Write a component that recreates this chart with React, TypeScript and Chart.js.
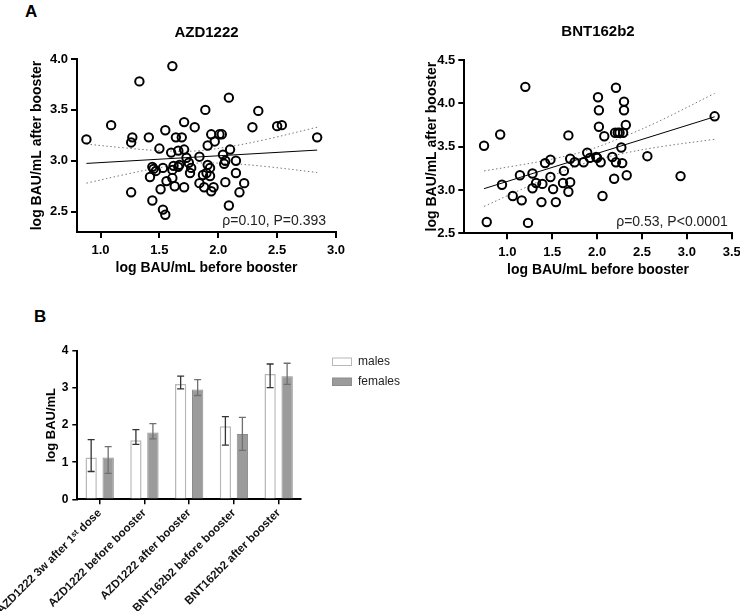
import React, { useEffect, useRef } from "react";
import { Chart, registerables } from "chart.js";
Chart.register(...registerables);

const FONT = "'Liberation Sans', Arial, Helvetica, sans-serif";

// ---------- Panel A: AZD1222 ----------
const azdBefore = [0.88, 1.09, 1.27, 1.26, 1.33, 1.26, 1.41, 1.42, 1.44, 1.45, 1.44, 1.47, 1.50, 1.51, 1.53, 1.53, 1.55, 1.55, 1.56, 1.60, 1.61, 1.61, 1.61, 1.63, 1.64, 1.66, 1.69, 1.66, 1.67, 1.71, 1.71, 1.73, 1.71, 1.75, 1.76, 1.77, 1.80, 1.84, 1.84, 1.88, 1.89, 1.90, 1.91, 1.91, 1.93, 1.94, 1.97, 1.94, 1.96, 2.01, 2.03, 2.04, 2.05, 2.06, 2.06, 2.09, 2.10, 2.09, 2.15, 2.15, 2.18, 2.22, 2.29, 2.34, 2.50, 2.54, 2.84, 1.62, 1.87, 1.93];
const azdAfter = [3.21, 3.35, 3.23, 3.18, 3.78, 2.69, 3.23, 2.84, 2.94, 2.92, 2.61, 2.90, 3.12, 2.72, 2.93, 2.52, 2.47, 3.30, 2.80, 3.08, 3.93, 2.91, 2.83, 2.75, 3.23, 2.94, 3.23, 3.10, 2.96, 3.38, 3.11, 3.03, 2.74, 2.98, 2.88, 2.93, 3.33, 3.04, 2.78, 2.74, 3.50, 2.88, 2.96, 3.15, 2.85, 3.26, 3.19, 2.70, 2.74, 3.26, 3.26, 3.06, 2.97, 3.00, 2.79, 3.62, 3.11, 2.56, 3.00, 2.88, 2.69, 2.78, 3.33, 3.49, 3.34, 3.35, 3.23, 2.95, 2.86, 2.93];
const azdFitX = [0.88, 2.84];
const azdFitY = [2.974, 3.105];
const azdBandX = [0.88, 1.2, 1.5, 1.8, 2.1, 2.4, 2.84];
const azdUpper = [3.164, 3.127, 3.100, 3.096, 3.140, 3.208, 3.330];
const azdLower = [2.780, 2.863, 2.932, 2.976, 2.972, 2.944, 2.885];
const azdXTicks = [1.0, 1.5, 2.0, 2.5, 3.0];
const azdYTicks = [2.5, 3.0, 3.5, 4.0];

// ---------- Panel A: BNT162b2 ----------
const bntBefore = [0.74, 0.77, 0.92, 0.94, 1.06, 1.14, 1.16, 1.20, 1.23, 1.28, 1.28, 1.32, 1.39, 1.38, 1.42, 1.48, 1.48, 1.51, 1.54, 1.63, 1.62, 1.68, 1.68, 1.70, 1.70, 1.75, 1.85, 1.89, 1.92, 1.99, 2.00, 2.01, 2.02, 2.02, 2.04, 2.06, 2.08, 2.17, 2.19, 2.20, 2.21, 2.21, 2.23, 2.25, 2.27, 2.28, 2.29, 2.30, 2.30, 2.32, 2.33, 2.56, 2.93, 3.31];
const bntAfter = [3.51, 2.63, 3.64, 3.06, 2.93, 3.17, 2.88, 4.19, 2.62, 3.19, 3.02, 3.08, 3.07, 2.86, 3.31, 3.15, 3.35, 3.01, 2.86, 3.22, 3.08, 2.98, 3.63, 3.09, 3.36, 3.32, 3.32, 3.43, 3.37, 3.38, 3.37, 4.07, 3.92, 3.73, 3.32, 2.93, 3.62, 3.38, 3.13, 3.66, 4.18, 3.32, 3.66, 3.66, 3.49, 3.31, 3.66, 4.02, 3.92, 3.75, 3.17, 3.39, 3.16, 3.85];
const bntFitX = [0.74, 3.31];
const bntFitY = [3.015, 3.845];
const bntBandX = [0.74, 1.1, 1.5, 1.9, 2.3, 2.7, 3.31];
const bntUpper = [3.220, 3.281, 3.357, 3.460, 3.616, 3.798, 4.115];
const bntLower = [2.810, 2.981, 3.164, 3.320, 3.423, 3.498, 3.585];
const bntXTicks = [1.0, 1.5, 2.0, 2.5, 3.0, 3.5];
const bntYTicks = [2.5, 3.0, 3.5, 4.0, 4.5];

// ---------- Panel B ----------
const barCategories = [
  "AZD1222 3w after 1ˢᵗ dose",
  "AZD1222 before booster",
  "AZD1222 after booster",
  "BNT162b2 before booster",
  "BNT162b2 after booster",
];
const malesMean = [1.13, 1.59, 3.11, 1.97, 3.38];
const malesLow = [0.75, 1.48, 2.98, 1.46, 3.01];
const malesHigh = [1.61, 1.88, 3.32, 2.23, 3.65];
const femalesMean = [1.13, 1.80, 2.96, 1.76, 3.32];
const femalesLow = [0.70, 1.63, 2.80, 1.32, 3.10];
const femalesHigh = [1.42, 2.04, 3.23, 2.21, 3.67];
const barYTicks = [0, 1, 2, 3, 4];

const xy = (xs: number[], ys: number[]) => xs.map((x, i) => ({ x, y: ys[i] }));

const fixSize = (dim: "width" | "height", size: number) => (scale: any) => {
  scale[dim] = size;
  scale.paddingLeft = 0;
  scale.paddingRight = 0;
  scale.paddingTop = 0;
  scale.paddingBottom = 0;
};

type ScatterSpec = {
  before: number[]; after: number[];
  fitX: number[]; fitY: number[];
  bandX: number[]; upper: number[]; lower: number[];
  xMin: number; xMax: number; xTicks: number[];
  yMin: number; yMax: number; yTicks: number[];
  title: string; titleY: number; stat: string; statInset: number; statUp: number;
  yAxisW: number; xAxisH: number; padTop: number; padRight: number;
  yTitlePad: number; xTitlePad: number;
};

function scatterConfig(s: ScatterSpec): any {
  const bandStyle = {
    showLine: true, pointRadius: 0, borderColor: "#777777", borderWidth: 1,
    borderDash: [1.5, 2.5], tension: 0.35, fill: false,
  };
  return {
    type: "scatter",
    data: {
      datasets: [
        { data: xy(s.before, s.after), pointRadius: 4.2, pointBorderWidth: 2, borderColor: "#000", backgroundColor: "rgba(255,255,255,0)", pointHoverRadius: 4.2 },
        { data: xy(s.fitX, s.fitY), showLine: true, pointRadius: 0, borderColor: "#000", borderWidth: 1, fill: false },
        { data: xy(s.bandX, s.upper), ...bandStyle },
        { data: xy(s.bandX, s.lower), ...bandStyle },
      ],
    },
    options: {
      responsive: false,
      animation: false,
      events: [],
      layout: { padding: { left: 0, top: s.padTop, right: s.padRight, bottom: 0 } },
      plugins: { legend: { display: false }, tooltip: { enabled: false }, title: { display: false } },
      scales: {
        x: {
          type: "linear", position: "bottom", min: s.xMin, max: s.xMax,
          afterBuildTicks: (sc: any) => { sc.ticks = s.xTicks.map((v) => ({ value: v })); },
          afterFit: fixSize("height", s.xAxisH),
          ticks: { font: { family: FONT, size: 13, weight: "bold" }, color: "#000", padding: 5, callback: (v: any) => Number(v).toFixed(1) },
          grid: { drawOnChartArea: false, drawTicks: true, tickLength: 6, color: "#000", lineWidth: 2 },
          border: { display: true, color: "#000", width: 2 },
          title: { display: true, text: "log BAU/mL before booster", color: "#000", font: { family: FONT, size: 14, weight: "bold" }, padding: { top: 0, bottom: s.xTitlePad } },
        },
        y: {
          type: "linear", position: "left", min: s.yMin, max: s.yMax,
          afterBuildTicks: (sc: any) => { sc.ticks = s.yTicks.map((v) => ({ value: v })); },
          afterFit: fixSize("width", s.yAxisW),
          ticks: { font: { family: FONT, size: 13, weight: "bold" }, color: "#000", padding: 3, callback: (v: any) => Number(v).toFixed(1) },
          grid: { drawOnChartArea: false, drawTicks: true, tickLength: 6, color: "#000", lineWidth: 2 },
          border: { display: true, color: "#000", width: 2 },
          title: { display: true, text: "log BAU/mL after booster", color: "#000", font: { family: FONT, size: 14, weight: "bold" }, padding: { top: s.yTitlePad, bottom: 0 } },
        },
      },
    },
    plugins: [
      {
        id: "texts",
        afterDraw(chart: any) {
          const { ctx, chartArea: ca } = chart;
          ctx.save();
          ctx.fillStyle = "#000";
          ctx.font = `bold 15px ${FONT}`;
          ctx.textAlign = "center";
          ctx.textBaseline = "middle";
          ctx.fillText(s.title, (ca.left + ca.right) / 2, s.titleY);
          ctx.fillStyle = "#222";
          ctx.font = `14px ${FONT}`;
          ctx.textAlign = "right";
          ctx.fillText(s.stat, ca.right - s.statInset, ca.bottom - s.statUp);
          ctx.restore();
        },
      },
    ],
  };
}

function barConfig(): any {
  return {
    type: "bar",
    data: {
      labels: barCategories,
      datasets: [
        { label: "males", data: malesMean, backgroundColor: "#ffffff", borderColor: "#b8b8b8", borderWidth: 1.5, categoryPercentage: 0.76, barPercentage: 0.665 },
        { label: "females", data: femalesMean, backgroundColor: "#9b9b9b", borderColor: "#8c8c8c", borderWidth: 1, categoryPercentage: 0.76, barPercentage: 0.665 },
      ],
    },
    options: {
      responsive: false,
      animation: false,
      events: [],
      layout: { padding: { left: 0, top: 51, right: 119, bottom: 0 } },
      plugins: { legend: { display: false }, tooltip: { enabled: false }, title: { display: false } },
      scales: {
        x: {
          type: "category",
          afterFit: fixSize("height", 111.7),
          ticks: { font: { family: FONT, size: 11.5, weight: "bold" }, color: "#111", padding: 2, minRotation: 45, maxRotation: 45, autoSkip: false },
          grid: { offset: false, drawOnChartArea: false, drawTicks: true, tickLength: 5, color: "#000", lineWidth: 1.5 },
          border: { display: true, color: "#000", width: 2 },
        },
        y: {
          type: "linear", min: 0, max: 4,
          afterBuildTicks: (sc: any) => { sc.ticks = barYTicks.map((v) => ({ value: v })); },
          afterFit: fixSize("width", 77.3),
          ticks: { font: { family: FONT, size: 12, weight: "bold" }, color: "#000", padding: 4 },
          grid: { drawOnChartArea: false, drawTicks: true, tickLength: 5, color: "#000", lineWidth: 1.5 },
          border: { display: true, color: "#000", width: 2 },
          title: { display: true, text: "log BAU/mL", color: "#000", font: { family: FONT, size: 13, weight: "bold" }, padding: { top: 43.9, bottom: 0 } },
        },
      },
    },
    plugins: [
      {
        id: "errorBars",
        afterDatasetsDraw(chart: any) {
          const { ctx } = chart;
          const ys = chart.scales.y;
          const specs = [
            { lo: malesLow, hi: malesHigh, color: "#333333" },
            { lo: femalesLow, hi: femalesHigh, color: "#707070" },
          ];
          ctx.save();
          ctx.lineWidth = 1.3;
          specs.forEach((sp, di) => {
            const meta = chart.getDatasetMeta(di);
            ctx.strokeStyle = sp.color;
            meta.data.forEach((bar: any, j: number) => {
              const x = bar.x;
              const y1 = ys.getPixelForValue(sp.lo[j]);
              const y2 = ys.getPixelForValue(sp.hi[j]);
              ctx.beginPath();
              ctx.moveTo(x, y1); ctx.lineTo(x, y2);
              ctx.moveTo(x - 3.5, y1); ctx.lineTo(x + 3.5, y1);
              ctx.moveTo(x - 3.5, y2); ctx.lineTo(x + 3.5, y2);
              ctx.stroke();
            });
          });
          ctx.restore();
        },
      },
      {
        id: "sideLegend",
        afterDraw(chart: any) {
          const { ctx } = chart;
          const items = [
            { text: "males", fill: "#ffffff", stroke: "#b8b8b8", y: 61.7 },
            { text: "females", fill: "#9b9b9b", stroke: "#8c8c8c", y: 81.7 },
          ];
          ctx.save();
          items.forEach((it) => {
            ctx.fillStyle = it.fill;
            ctx.fillRect(332.5, it.y - 3.7, 19, 7.5);
            ctx.strokeStyle = it.stroke;
            ctx.lineWidth = 1;
            ctx.strokeRect(332.5, it.y - 3.7, 19, 7.5);
            ctx.fillStyle = "#222";
            ctx.font = `12px ${FONT}`;
            ctx.textAlign = "left";
            ctx.textBaseline = "middle";
            ctx.fillText(it.text, 358, it.y);
          });
          ctx.restore();
        },
      },
    ],
  };
}

function ChartCanvas({ left, top, width, height, make }: { left: number; top: number; width: number; height: number; make: () => any }) {
  const ref = useRef<HTMLCanvasElement | null>(null);
  useEffect(() => {
    if (!ref.current) return;
    const chart = new Chart(ref.current, make());
    return () => chart.destroy();
  }, []);
  return (
    <canvas
      ref={ref}
      width={width}
      height={height}
      style={{ position: "absolute", left, top, width, height, display: "block" }}
    />
  );
}

export default function App() {
  const azdSpec: ScatterSpec = {
    before: azdBefore, after: azdAfter, fitX: azdFitX, fitY: azdFitY,
    bandX: azdBandX, upper: azdUpper, lower: azdLower,
    xMin: 0.8, xMax: 3.0, xTicks: azdXTicks, yMin: 2.3, yMax: 4.0, yTicks: azdYTicks,
    title: "AZD1222", titleY: 33, stat: "ρ=0.10, P=0.393", statInset: 10, statUp: 11,
    yAxisW: 77, xAxisH: 58, padTop: 59, padRight: 34, yTitlePad: 28.6, xTitlePad: 13.6,
  };
  const bntSpec: ScatterSpec = {
    before: bntBefore, after: bntAfter, fitX: bntFitX, fitY: bntFitY,
    bandX: bntBandX, upper: bntUpper, lower: bntLower,
    xMin: 0.52, xMax: 3.5, xTicks: bntXTicks, yMin: 2.5, yMax: 4.5, yTicks: bntYTicks,
    title: "BNT162b2", titleY: 32, stat: "ρ=0.53, P<0.0001", statInset: 4, statUp: 11.6,
    yAxisW: 94.3, xAxisH: 56.7, padTop: 60, padRight: 8.3, yTitlePad: 53.3, xTitlePad: 11.6,
  };
  return (
    <div style={{ position: "fixed", left: 0, top: 0, width: 740, height: 611, background: "#fff", overflow: "hidden", fontFamily: FONT }}>
      <div style={{ position: "absolute", left: 25, top: 2, fontSize: 17, fontWeight: "bold", color: "#000", lineHeight: "normal" }}>A</div>
      <div style={{ position: "absolute", left: 34, top: 307, fontSize: 17, fontWeight: "bold", color: "#000", lineHeight: "normal" }}>B</div>
      <ChartCanvas left={0} top={0} width={370} height={290} make={() => scatterConfig(azdSpec)} />
      <ChartCanvas left={370} top={0} width={370} height={290} make={() => scatterConfig(bntSpec)} />
      <ChartCanvas left={0} top={300} width={420} height={311} make={barConfig} />
    </div>
  );
}
